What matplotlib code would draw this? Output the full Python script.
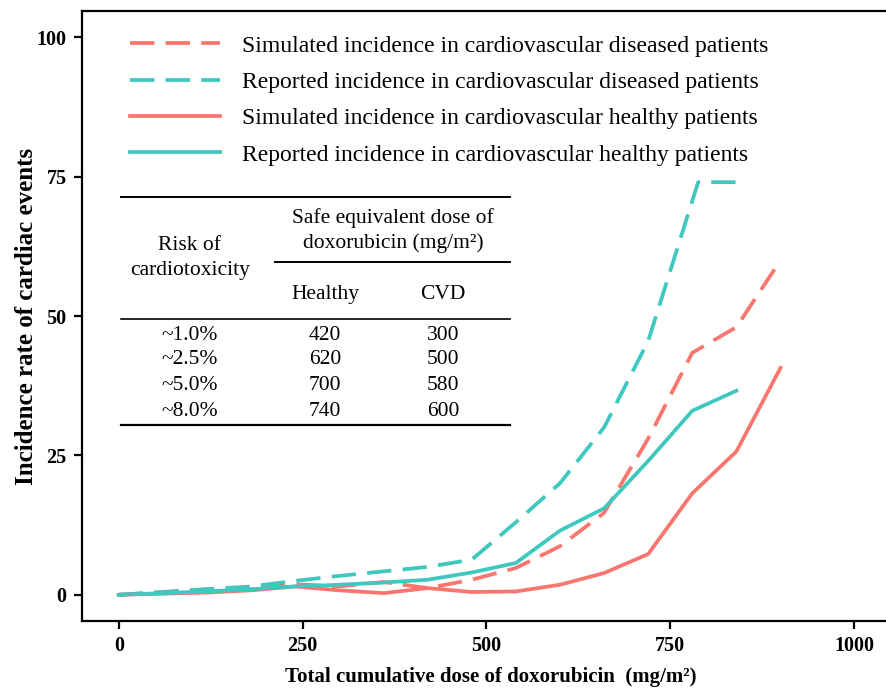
import matplotlib
matplotlib.use("Agg")
import matplotlib.pyplot as plt
from matplotlib.lines import Line2D

plt.rcParams['font.family'] = ['Liberation Serif', 'DejaVu Serif']

# ---- data ----
x_sim_cvd = [0, 60, 120, 180, 240, 300, 360, 420, 480, 540, 600, 660, 720, 780, 840, 900]
y_sim_cvd = [0, 0.5, 1.0, 1.0, 1.9, 1.5, 2.3, 1.2, 2.7, 4.8, 8.7, 14.7, 28, 43.4, 48, 60]

x_rep_cvd = [0, 60, 120, 180, 240, 300, 360, 420, 480, 540, 600, 660, 720, 788, 840]
y_rep_cvd = [0, 0.5, 1.0, 1.5, 2.5, 3.4, 4.2, 5.0, 6.3, 13, 20, 30, 45.5, 74, 74]

x_sim_hea = [0, 60, 120, 180, 240, 300, 360, 420, 480, 540, 600, 660, 720, 780, 840, 900]
y_sim_hea = [0, 0.2, 0.4, 0.8, 1.5, 0.8, 0.3, 1.2, 0.5, 0.6, 1.8, 3.9, 7.3, 18.2, 25.7, 40.7]

x_rep_hea = [0, 60, 120, 180, 240, 300, 360, 420, 480, 540, 600, 660, 720, 780, 840]
y_rep_hea = [0, 0.3, 0.6, 1.0, 1.5, 1.8, 2.2, 2.7, 4.0, 5.7, 11.5, 15.5, 24, 33, 36.6]

labels = ["Simulated incidence in cardiovascular diseased patients",
          "Reported incidence in cardiovascular diseased patients",
          "Simulated incidence in cardiovascular healthy patients",
          "Reported incidence in cardiovascular healthy patients"]

x_ticks = [0, 250, 500, 750, 1000]
y_ticks = [0, 25, 50, 75, 100]

table_risk = ["~1.0%", "~2.5%", "~5.0%", "~8.0%"]
table_healthy = [420, 620, 700, 740]
table_cvd = [300, 500, 580, 600]

RED = '#F8766D'
TEAL = '#3EC8C0'
DASH = (0, (6.5, 3.0))

W, H = 887, 689
fig = plt.figure(figsize=(W / 100, H / 100), dpi=100)
ax = fig.add_axes([82 / W, 1 - 621 / H, (890.8 - 82) / W, (621 - 11) / H])

lw = 2.7
ax.plot(x_sim_cvd, y_sim_cvd, color=RED, lw=lw, linestyle=DASH, label=labels[0])
ax.plot(x_rep_cvd, y_rep_cvd, color=TEAL, lw=lw, linestyle=DASH, label=labels[1])
ax.plot(x_sim_hea, y_sim_hea, color=RED, lw=lw, label=labels[2])
ax.plot(x_rep_hea, y_rep_hea, color=TEAL, lw=lw, label=labels[3])

ax.set_xlim(-50, 1050)
ax.set_ylim(-4.7, 104.7)
ax.set_xticks(x_ticks)
ax.set_yticks(y_ticks)
for s in ['left', 'bottom', 'top']:
    ax.spines[s].set_linewidth(1.6)
ax.spines['right'].set_visible(False)
ax.tick_params(axis='both', direction='out', length=6, width=1.6, labelsize=14.5, pad=5)
for lab in ax.get_xticklabels() + ax.get_yticklabels():
    lab.set_fontweight('bold')

ax.set_xlabel("Total cumulative dose of doxorubicin  (mg/m\u00b2)", fontsize=15, fontweight='bold')
ax.xaxis.set_label_coords(491 / W, 1 - 667 / H, transform=fig.transFigure)
ax.set_ylabel("Incidence rate of cardiac events", fontsize=18, fontweight='bold')
ax.yaxis.set_label_coords(38 / W, 1 - 316 / H, transform=fig.transFigure)

leg = ax.legend(loc='upper left', bbox_to_anchor=(130 / W, 1 - 35 / H), bbox_transform=fig.transFigure,
                frameon=False, fontsize=17, handlelength=3.8, handletextpad=0.93, labelspacing=0.63,
                borderaxespad=0, borderpad=0)

# ---- inset table ----
def fx(px):
    return px / W

def fy(py):
    return 1 - py / H

for (x0, x1, y, w) in [(121, 510, 197, 1.4), (275, 510, 262, 1.4), (121, 510, 319, 1.2), (121, 510, 425, 1.6)]:
    fig.add_artist(Line2D([fx(x0), fx(x1)], [fy(y), fy(y)], color='black', lw=w))

fs = 15.5
c0, c1, c2 = 190, 325, 443
fig.text(fx(393), fy(218), "Safe equivalent dose of", ha='center', va='center', fontsize=fs)
fig.text(fx(393), fy(243), "doxorubicin (mg/m\u00b2)", ha='center', va='center', fontsize=fs)
fig.text(fx(c0), fy(246), "Risk of", ha='center', va='center', fontsize=fs)
fig.text(fx(c0), fy(270), "cardiotoxicity", ha='center', va='center', fontsize=fs)
fig.text(fx(c1), fy(294), "Healthy", ha='center', va='center', fontsize=fs)
fig.text(fx(c2), fy(294), "CVD", ha='center', va='center', fontsize=fs)
row_y = [335, 360, 385, 411]
for ry, r, h, c in zip(row_y, table_risk, table_healthy, table_cvd):
    fig.text(fx(c0), fy(ry), r, ha='center', va='center', fontsize=fs)
    fig.text(fx(c1), fy(ry), str(h), ha='center', va='center', fontsize=fs)
    fig.text(fx(c2), fy(ry), str(c), ha='center', va='center', fontsize=fs)

fig.savefig("out.png", dpi=100)
